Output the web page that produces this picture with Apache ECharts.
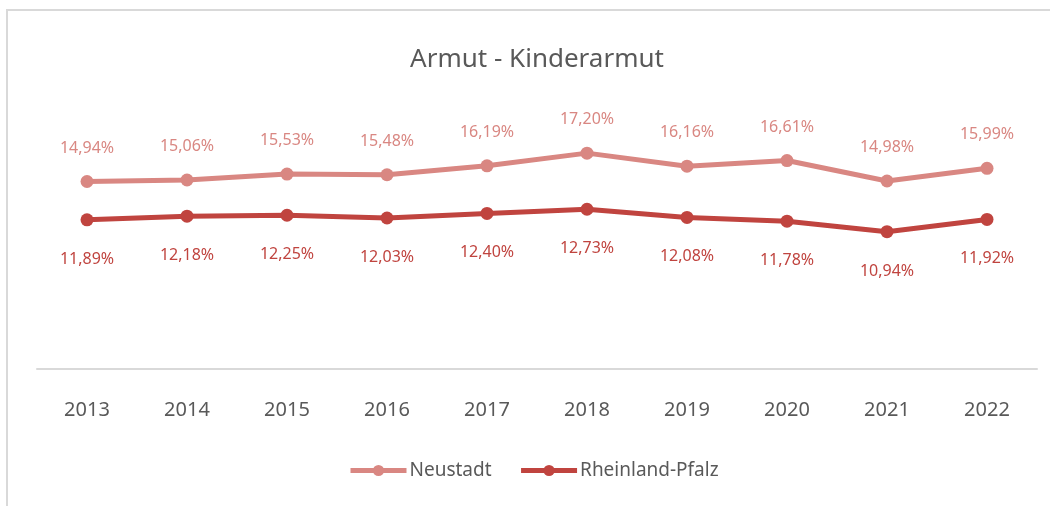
<!DOCTYPE html>
<html>
<head>
<meta charset="utf-8">
<script src="https://cdn.jsdelivr.net/npm/echarts@6/dist/echarts.min.js"></script>
<style>
  html, body { margin: 0; padding: 0; background: #fff; }
  #frame { position: absolute; left: 6px; top: 9px; width: 1100px; height: 600px;
           border-left: 2px solid #d9d9d9; border-top: 2px solid #d9d9d9; }
  #main { position: absolute; left: 0; top: 0; width: 1050px; height: 506px; }
</style>
</head>
<body>
<div id="frame"></div>
<div id="main"></div>
<script>
  var years = ["2013", "2014", "2015", "2016", "2017", "2018", "2019", "2020", "2021", "2022"];
  var neustadt = [14.94, 15.06, 15.53, 15.48, 16.19, 17.20, 16.16, 16.61, 14.98, 15.99];
  var rlp = [11.89, 12.18, 12.25, 12.03, 12.40, 12.73, 12.08, 11.78, 10.94, 11.92];

  var fontName = "Noto Sans";
  var pct = function (p) {
    return p.value.toFixed(2).replace(".", ",") + "%";
  };

  var myChart = echarts.init(document.getElementById("main"));
  myChart.setOption({
    animation: false,
    textStyle: { fontFamily: fontName },
    title: {
      text: "Armut - Kinderarmut",
      left: 532,
      top: 42,
      textAlign: "center",
      textStyle: { color: "#595959", fontSize: 26, fontWeight: "normal", fontFamily: fontName }
    },
    legend: {
      left: 343,
      top: 456,
      itemWidth: 56,
      itemHeight: 14,
      itemGap: 27,
      lineStyle: { width: 5 },
      textStyle: { color: "#595959", fontSize: 19, fontFamily: fontName, padding: [0, 0, 0, -2] },
      data: ["Neustadt", "Rheinland-Pfalz"]
    },
    grid: { left: 37, right: 13, top: 118, bottom: 137 },
    xAxis: {
      type: "category",
      data: years,
      axisLine: { lineStyle: { color: "#d9d9d9", width: 2 } },
      axisTick: { show: false },
      axisLabel: { color: "#595959", fontSize: 20, margin: 31, fontFamily: fontName }
    },
    yAxis: {
      type: "value",
      min: 0,
      max: 20,
      axisLabel: { show: false },
      splitLine: { show: false },
      axisLine: { show: false },
      axisTick: { show: false }
    },
    series: [
      {
        name: "Neustadt",
        type: "line",
        data: neustadt,
        symbol: "circle",
        symbolSize: 13,
        color: "#d98782",
        lineStyle: { width: 5, color: "#d98782" },
        label: { show: true, position: "top", distance: 19, color: "#d98782", fontSize: 16, formatter: pct }
      },
      {
        name: "Rheinland-Pfalz",
        type: "line",
        data: rlp,
        symbol: "circle",
        symbolSize: 13,
        color: "#c0443f",
        lineStyle: { width: 5, color: "#c0443f" },
        label: { show: true, position: "bottom", distance: 25, color: "#c0443f", fontSize: 16, formatter: pct }
      }
    ]
  });
</script>
</body>
</html>
